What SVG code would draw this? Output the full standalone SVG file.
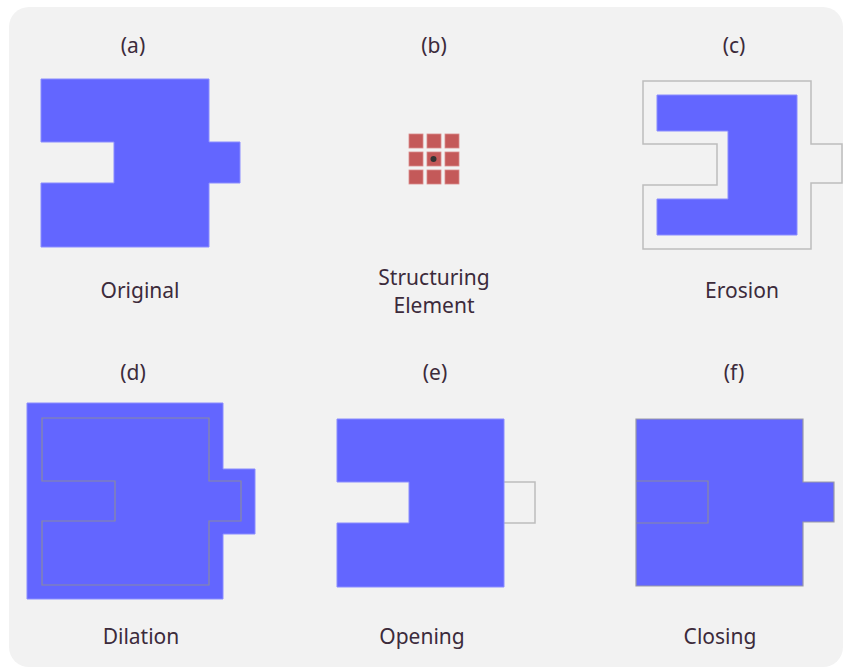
<svg xmlns="http://www.w3.org/2000/svg" width="846" height="669" viewBox="0 0 846 669">
<style>
.lbl{font-family:"Noto Sans","Liberation Sans",sans-serif;font-size:21px;fill:#3c2b3b;text-anchor:middle}
.shape{fill:#6366ff;stroke:#8a8cff;stroke-width:1}
.shapeg{fill:#6366ff;stroke:#9a9aa8;stroke-width:1.2}
.ghost{fill:none;stroke:#bdbdbd;stroke-width:1.5}
.inner{fill:none;stroke:#8a8aa0;stroke-width:1.2}
.se{fill:#c45959;stroke:#d98a8a;stroke-width:0.8}
</style>
<rect x="9" y="7" width="834" height="660" rx="20" fill="#f2f2f2"/>

<g id="panel-a">
<text class="lbl" x="133" y="53">(a)</text>
<path class="shape" d="M41,79 H209 V142 H240 V183 H209 V247 H41 V183 H114 V142 H41 Z"/>
<text class="lbl" x="140" y="298">Original</text>
</g>

<g id="panel-b">
<text class="lbl" x="434" y="53">(b)</text>
<rect class="se" x="409" y="134" width="14" height="14"/>
<rect class="se" x="427" y="134" width="14" height="14"/>
<rect class="se" x="445" y="134" width="14" height="14"/>
<rect class="se" x="409" y="152" width="14" height="14"/>
<rect class="se" x="427" y="152" width="14" height="14"/>
<rect class="se" x="445" y="152" width="14" height="14"/>
<rect class="se" x="409" y="170" width="14" height="14"/>
<rect class="se" x="427" y="170" width="14" height="14"/>
<rect class="se" x="445" y="170" width="14" height="14"/>
<circle cx="433.5" cy="159" r="3" fill="#333"/>
<text class="lbl" x="434" y="285">Structuring</text>
<text class="lbl" x="434" y="313">Element</text>
</g>

<g id="panel-c">
<text class="lbl" x="734" y="53">(c)</text>
<path class="ghost" d="M643,81 H811 V144 H842 V183 H811 V249 H643 V185 H717 V144 H643 Z"/>
<path class="shape" d="M657,95 H797 V235 H657 V199 H728 V131 H657 Z"/>
<text class="lbl" x="742" y="298">Erosion</text>
</g>

<g id="panel-d">
<text class="lbl" x="133" y="380">(d)</text>
<path class="shape" d="M27,403 H223 V469 H255 V534 H223 V599 H27 Z"/>
<path class="inner" d="M42,418 H209 V481 H241 V521 H209 V585 H42 V521 H115 V481 H42 Z"/>
<text class="lbl" x="141" y="644">Dilation</text>
</g>

<g id="panel-e">
<text class="lbl" x="435" y="380">(e)</text>
<path class="ghost" d="M504,482 H535 V523 H504"/>
<path class="shape" d="M337,419 H504 V587 H337 V523 H409 V482 H337 Z"/>
<text class="lbl" x="422" y="644">Opening</text>
</g>

<g id="panel-f">
<text class="lbl" x="734" y="380">(f)</text>
<path class="shapeg" d="M636,419 H803 V482 H834 V522 H803 V586 H636 Z"/>
<path class="inner" d="M636,481 H708 V523 H636"/>
<text class="lbl" x="720" y="644">Closing</text>
</g>
</svg>
